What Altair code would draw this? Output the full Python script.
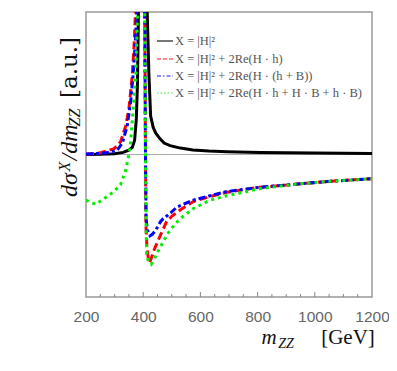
import altair as alt
import pandas as pd

# ---------------- data ----------------
black_m = [200, 250, 300, 330, 350, 362, 370, 376, 380, 384, 395, 405, 414, 420, 426, 435, 444,
           459, 473, 494, 530, 574, 630, 693, 808, 1000, 1200]
black_y = [0.0, 0.002, 0.006, 0.015, 0.03, 0.05, 0.10, 0.25, 0.5, 1.1, 4.0, 4.0, 1.0, 0.56, 0.27,
           0.19, 0.15, 0.11, 0.08, 0.062, 0.045, 0.032, 0.025, 0.02, 0.014, 0.01, 0.007]

red_m = [200, 251, 298, 321, 339, 350, 362, 369, 373, 376, 392, 404, 408, 409.5, 413, 418, 423,
         430, 438, 455, 473, 482, 502, 529, 575, 634, 692, 808, 925, 1042, 1200]
red_y = [0.002, 0.012, 0.04, 0.09, 0.2, 0.32, 0.56, 0.8, 1.0, 1.3, 5.0, 1.5, 0.0, -0.5, -0.65,
         -0.73, -0.755, -0.72, -0.67, -0.59, -0.51, -0.47, -0.43, -0.39, -0.33, -0.295, -0.265,
         -0.23, -0.21, -0.19, -0.17]

blue_m = [200, 250, 280, 309, 327, 344, 356, 365, 374, 378, 392, 404, 408, 410, 415, 424, 432,
          444, 461, 470, 496, 517, 575, 634, 692, 808, 925, 1042, 1200]
blue_y = [0.003, 0.008, 0.015, 0.03, 0.08, 0.2, 0.37, 0.56, 0.84, 1.05, 5.0, 1.5, 0.0, -0.45,
          -0.53, -0.57, -0.56, -0.53, -0.47, -0.45, -0.41, -0.37, -0.32, -0.29, -0.26, -0.23,
          -0.21, -0.19, -0.17]

green_m = [200, 234, 263, 298, 321, 339, 348, 352, 356, 365, 374, 379, 381, 392, 404, 408, 410,
           412, 418, 428, 440, 449, 473, 494, 529, 575, 634, 692, 808, 925, 1042, 1200]
green_y = [-0.32, -0.35, -0.31, -0.26, -0.21, -0.11, -0.02, 0.03, 0.09, 0.32, 0.56, 0.91, 1.1,
           5.0, 1.5, 0.0, -0.5, -0.7, -0.75, -0.77, -0.73, -0.69, -0.6, -0.53, -0.45, -0.38,
           -0.32, -0.29, -0.24, -0.21, -0.19, -0.17]

x_label_values = [200, 400, 600, 800, 1000, 1200]
minor_ticks = [250, 300, 350, 450, 500, 550, 650, 700, 750, 850, 900, 950, 1050, 1100, 1150]
major_ticks = [400, 600, 800, 1000]

legend_labels = [
    "X = |H|²",
    "X = |H|² + 2Re(H · h)",
    "X = |H|² + 2Re(H · (h + B))",
    "X = |H|² + 2Re(H · h + H · B + h · B)",
]

W, H = 286, 285

xenc = alt.X("m:Q", scale=alt.Scale(domain=[200, 1200], nice=False, zero=False),
             axis=alt.Axis(values=x_label_values, ticks=False, domain=False, grid=False,
                           title=None, labelFontSize=15.5, labelColor="#666666",
                           labelFont="Liberation Sans", labelPadding=12,
                           labelOverlap=False, format="d", labelFlush=False))
yenc = alt.Y("v:Q", scale=alt.Scale(domain=[-1, 1], nice=False, zero=False), axis=None)


def curve(ms, vs, color, dash, width):
    df = pd.DataFrame({"m": ms, "v": vs})
    kw = dict(color=color, strokeWidth=width, clip=True)
    if dash:
        kw["strokeDash"] = dash
    return alt.Chart(df).mark_line(**kw).encode(x=xenc, y=yenc)


zero = alt.Chart(pd.DataFrame({"v": [0.0]})).mark_rule(color="#aaaaaa", strokeWidth=1).encode(
    y=yenc)

ticks_minor = alt.Chart(pd.DataFrame({"m": minor_ticks})).mark_rule(
    color="#888888", strokeWidth=1).encode(x=xenc, y=alt.value(H), y2=alt.value(H - 3))
ticks_major = alt.Chart(pd.DataFrame({"m": major_ticks})).mark_rule(
    color="#888888", strokeWidth=1).encode(x=xenc, y=alt.value(H), y2=alt.value(H - 5))

layers = [
    zero,
    curve(black_m, black_y, "#000000", None, 3),
    curve(red_m, red_y, "#ff0000", [8, 4], 3),
    curve(blue_m, blue_y, "#0000ff", [7, 3, 3, 3], 3),
    curve(green_m, green_y, "#00ee00", [3, 4], 3),
    ticks_minor,
    ticks_major,
]

# legend
leg_colors = ["#777777", "#ff6666", "#6666ff", "#77ee77"]
leg_dash = [None, [4, 2], [4, 2, 1.5, 2], [1.5, 2]]
leg_y = [29, 47, 64, 81]
for lab, c, d, yy in zip(legend_labels, leg_colors, leg_dash, leg_y):
    kw = dict(color=c, strokeWidth=2 if d is None else 1.5)
    if d:
        kw["strokeDash"] = d
    layers.append(alt.Chart(pd.DataFrame({"t": [lab]})).mark_rule(**kw).encode(
        x=alt.value(71), x2=alt.value(87), y=alt.value(yy)))
    layers.append(alt.Chart(pd.DataFrame({"t": [lab]})).mark_text(
        align="left", baseline="middle", font="Liberation Serif", fontSize=12.5,
        color="#555555").encode(text="t:N", x=alt.value(89), y=alt.value(yy)))


def txt(s, x, y, size, italic=True, angle=0, font="Liberation Serif"):
    kw = dict(align="center", baseline="alphabetic", font=font, fontSize=size,
              color="#111111", fontStyle="italic" if italic else "normal")
    if angle:
        kw["angle"] = angle
    return alt.Chart(pd.DataFrame({"t": [s]})).mark_text(**kw).encode(
        text="t:N", x=alt.value(x), y=alt.value(y))


# y title pieces (rotated)
layers += [
    txt("dσ", -9, 173, 24, True, 270),
    txt("X", -16, 154.5, 16, True, 270),
    txt("/dm", -9, 130.5, 24, True, 270),
    txt("ZZ", -6, 105.5, 16, True, 270),
    txt("[a.u.]", -9, 55.5, 23, False, 270, "DejaVu Serif"),
]
# x title pieces
layers += [
    txt("m", 183, 332, 21, True),
    txt("ZZ", 200, 336, 14, True),
    txt("[GeV]", 262, 332, 21, False),
]

chart = alt.layer(*layers).properties(
    width=W, height=H,
    autosize=alt.AutoSizeParams(type="none"),
    padding={"left": 78, "top": 4, "right": 17, "bottom": 60},
).configure_view(stroke="#999999", strokeWidth=1.5)

chart.save("out.html", embed_options={"renderer": "svg", "actions": False})
